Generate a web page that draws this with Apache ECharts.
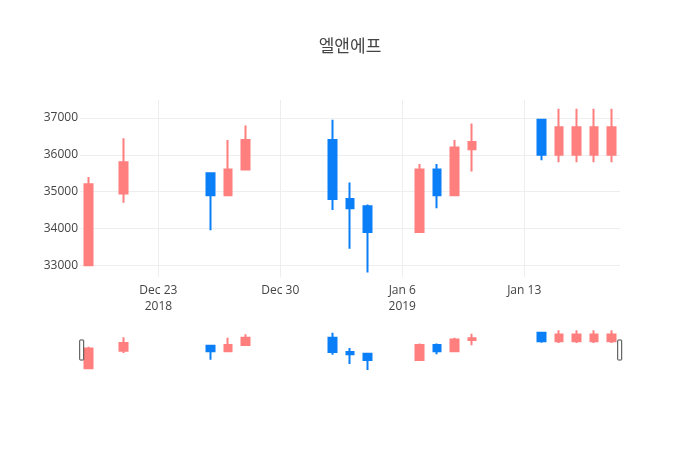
<!DOCTYPE html>
<html>
<head>
<meta charset="utf-8">
<script src="https://cdn.jsdelivr.net/npm/echarts@6/dist/echarts.min.js"></script>
<style>
  html, body { margin: 0; padding: 0; background: #fff; }
  #chart { width: 700px; height: 450px; }
</style>
</head>
<body>
<div id="chart"></div>
<script>
const title = '엘앤에프'
const dates = ['2018-12-19', '2018-12-21', '2018-12-26', '2018-12-27', '2018-12-28',
  '2019-01-02', '2019-01-03', '2019-01-04', '2019-01-07', '2019-01-08', '2019-01-09',
  '2019-01-10', '2019-01-14', '2019-01-15', '2019-01-16', '2019-01-17', '2019-01-18']
const openValues = [33000, 34950, 35500, 34900, 35600, 36400, 34800, 34600, 33900, 35600, 34900,
  36150, 36950, 36000, 36000, 36000, 36000]
const closeValues = [35200, 35800, 34900, 35600, 36400, 34800, 34550, 33900, 35600, 34900, 36200,
  36350, 36000, 36750, 36750, 36750, 36750]
const lowValues = [33000, 34700, 33950, 34900, 35600, 34500, 33450, 32800, 33900, 34550, 34900,
  35550, 35850, 35800, 35800, 35800, 35800]
const highValues = [35400, 36450, 35500, 36400, 36800, 36950, 35250, 34650, 35750, 35750, 36400,
  36850, 36950, 37250, 37250, 37250, 37250]
const xTickDates = ['2018-12-23', '2018-12-30', '2019-01-06', '2019-01-13']
const xTickLabels = ['Dec 23\n2018', 'Dec 30', 'Jan 6\n2019', 'Jan 13']
const yTicks = [33000, 34000, 35000, 36000, 37000]

const toTime = (s) => {
  const [y, m, d] = s.split('-').map(Number)
  return Date.UTC(y, m - 1, d)
}
const DAY = 24 * 3600 * 1000
const xMin = toTime(dates[0]) - DAY / 2
const xMax = toTime(dates[dates.length - 1]) + DAY / 2
const yMin = 32680
const yMax = 37490

const candles = dates.map((d, i) => [toTime(d), openValues[i], closeValues[i], lowValues[i], highValues[i]])
const xTickValues = xTickDates.map(toTime)

const upColor = '#ff7f7f'
const downColor = '#0a7ff7'
const font = '"Open Sans", sans-serif'

const candleStyle = {
  color: upColor,
  color0: downColor,
  borderColor: upColor,
  borderColor0: downColor,
  borderWidth: 2,
}

const chart = echarts.init(document.getElementById('chart'))
chart.setOption({
  animation: false,
  backgroundColor: '#fff',
  title: {
    text: title,
    left: 'center',
    top: 32,
    textStyle: { fontFamily: '"Noto Sans CJK KR", sans-serif', fontSize: 17, fontWeight: 'normal', color: '#444' },
  },
  grid: [
    { left: 80, right: 80, top: 100, height: 177 },
    { left: 80, right: 80, top: 328, height: 43 },
  ],
  xAxis: [
    {
      type: 'value',
      gridIndex: 0,
      min: xMin,
      max: xMax,
      axisLine: { show: false },
      axisTick: { show: false, customValues: xTickValues },
      splitLine: { show: true, lineStyle: { color: '#eee', width: 1 } },
      axisLabel: {
        customValues: xTickValues,
        color: '#444',
        fontFamily: font,
        fontSize: 12,
        lineHeight: 16,
        margin: 6,
        formatter: (v) => xTickLabels[xTickValues.indexOf(v)] || '',
      },
    },
    {
      type: 'value',
      gridIndex: 1,
      min: xMin,
      max: xMax,
      show: false,
    },
  ],
  yAxis: [
    {
      type: 'value',
      gridIndex: 0,
      min: yMin,
      max: yMax,
      axisLine: { show: false },
      axisTick: { show: false, customValues: yTicks },
      splitLine: { show: true, lineStyle: { color: '#eee', width: 1 } },
      axisLabel: {
        customValues: yTicks,
        color: '#444',
        fontFamily: font,
        fontSize: 12,
        margin: 2,
        formatter: (v) => String(v),
      },
    },
    {
      type: 'value',
      gridIndex: 1,
      min: yMin,
      max: yMax,
      show: false,
    },
  ],
  dataZoom: [
    {
      type: 'slider',
      xAxisIndex: 0,
      filterMode: 'none',
      start: 0,
      end: 100,
      left: 80,
      right: 80,
      top: 340,
      height: 20,
      showDetail: false,
      showDataShadow: false,
      brushSelect: false,
      moveHandleSize: 0,
      backgroundColor: 'transparent',
      borderColor: 'transparent',
      fillerColor: 'transparent',
      handleIcon: 'path://M0.5,0 L3.5,0 Q4,0 4,0.5 L4,19.5 Q4,20 3.5,20 L0.5,20 Q0,20 0,19.5 L0,0.5 Q0,0 0.5,0 Z',
      handleSize: '100%',
      handleStyle: { color: '#fff', borderColor: '#444', borderWidth: 1 },
      emphasis: { handleStyle: { color: '#fff', borderColor: '#444', borderWidth: 1 } },
    },
  ],
  series: [
    {
      type: 'candlestick',
      xAxisIndex: 0,
      yAxisIndex: 0,
      barWidth: 8,
      encode: { x: 0, y: [1, 2, 3, 4] },
      itemStyle: candleStyle,
      data: candles,
    },
    {
      type: 'candlestick',
      xAxisIndex: 1,
      yAxisIndex: 1,
      barWidth: 8,
      silent: true,
      encode: { x: 0, y: [1, 2, 3, 4] },
      itemStyle: candleStyle,
      data: candles,
    },
  ],
})
</script>
</body>
</html>
